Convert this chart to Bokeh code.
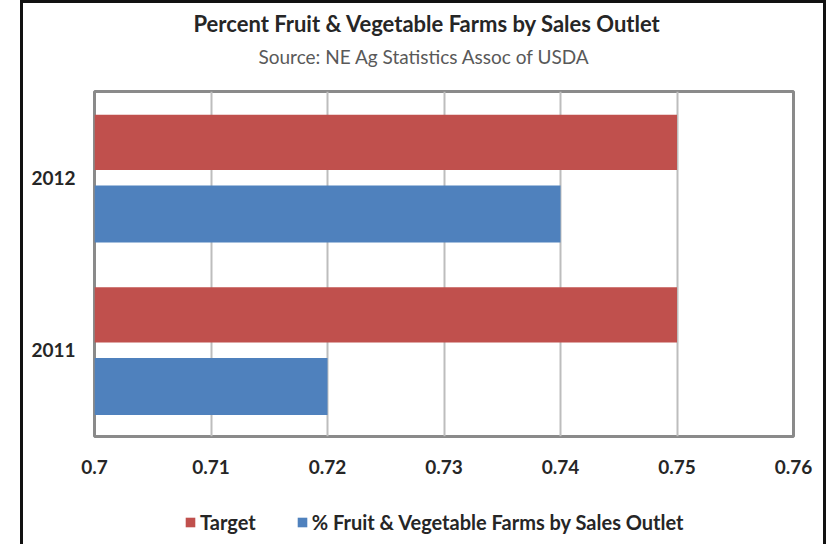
from bokeh.plotting import figure
from bokeh.layouts import column
from bokeh.models import Legend, LegendItem, Title, FixedTicker, ColumnDataSource
from bokeh.transform import dodge
from bokeh.embed import file_html
from bokeh.resources import INLINE

years = ["2011", "2012"]
target = [0.75, 0.75]
pct_farms = [0.72, 0.74]
x_ticks = [0.70, 0.71, 0.72, 0.73, 0.74, 0.75, 0.76]
series_names = ["Target", "% Fruit & Vegetable Farms by Sales Outlet"]

RED = "#C0504D"
BLUE = "#4F81BD"
FONT = "Lato"
TXT = "#262626"

src = ColumnDataSource(dict(year=years, target=target, pct=pct_farms, base=[0, 0]))

p = figure(width=806, height=490, y_range=years, x_range=(0.70, 0.76),
           output_backend="svg", toolbar_location=None,
           min_border_left=71, min_border_right=36, min_border_top=86, min_border_bottom=57)
p.margin = (0, 0, 0, 20)
p.styles = {"border-left": "3px solid #111", "border-top": "3px solid #111",
            "border-right": "3px solid #111", "box-sizing": "border-box"}

r1 = p.hbar(y=dodge("year", 0.205, range=p.y_range), left="base", right="target", height=0.32,
            source=src, fill_color=RED, line_color=None)
r2 = p.hbar(y=dodge("year", -0.21, range=p.y_range), left="base", right="pct", height=0.33,
            source=src, fill_color=BLUE, line_color=None)

# spacer between subtitle and plot frame, then subtitle, then main title (outermost)
p.add_layout(Title(text=" ", text_font_size="2px", standoff=18), "above")
p.add_layout(Title(text="Source: NE Ag Statistics Assoc of USDA", align="left", offset=164,
                   text_font=FONT, text_font_size="19px", text_font_style="normal",
                   text_color="#595959", standoff=4), "above")
p.title.text = "Percent Fruit & Vegetable Farms by  Sales Outlet"
p.title.align = "left"
p.title.offset = 99
p.title.text_font = FONT
p.title.text_font_size = "22px"
p.title.text_font_style = "bold"
p.title.text_color = TXT
p.title.standoff = 8

p.xaxis.ticker = FixedTicker(ticks=x_ticks)
p.xaxis.major_label_overrides = {t: ("%g" % t) for t in x_ticks}
p.xaxis.axis_line_color = None
p.xaxis.major_tick_line_color = None
p.xaxis.major_tick_out = 0
p.xaxis.minor_tick_line_color = None
p.xaxis.major_label_standoff = 23
p.xaxis.major_label_text_font = FONT
p.xaxis.major_label_text_font_size = "19px"
p.xaxis.major_label_text_font_style = "bold"
p.xaxis.major_label_text_color = TXT

p.yaxis.axis_line_color = None
p.yaxis.major_tick_line_color = None
p.yaxis.major_tick_out = 0
p.yaxis.major_label_standoff = 19
p.yaxis.major_label_text_font = FONT
p.yaxis.major_label_text_font_size = "19px"
p.yaxis.major_label_text_font_style = "bold"
p.yaxis.major_label_text_color = TXT

p.ygrid.grid_line_color = None
p.xgrid.grid_line_color = "#bdbdbd"
p.xgrid.grid_line_width = 2
p.outline_line_color = "#8a8a8a"
p.outline_line_width = 3

# legend strip below the chart (its frame aligns with the chart frame)
leg = figure(width=806, height=54, output_backend="svg", toolbar_location=None,
             min_border=0, x_range=(0.70, 0.76), y_range=years)
leg.margin = (0, 0, 0, 20)
leg.styles = {"border-left": "3px solid #111", "border-right": "3px solid #111",
              "box-sizing": "border-box"}
leg.axis.visible = False
leg.grid.visible = False
leg.outline_line_color = None
lr1 = leg.hbar(y="year", left="base", right="target", height=0.3, source=src,
               fill_color=RED, line_color=None, visible=False)
lr2 = leg.hbar(y="year", left="base", right="pct", height=0.3, source=src,
               fill_color=BLUE, line_color=None, visible=False)
legend = Legend(items=[LegendItem(label=series_names[0], renderers=[lr1]),
                       LegendItem(label=series_names[1], renderers=[lr2])],
                orientation="horizontal", location=(90, 10),
                label_text_font=FONT, label_text_font_size="20px", label_text_font_style="bold",
                label_text_color=TXT, glyph_width=12, glyph_height=12,
                label_standoff=4, spacing=40, border_line_color=None,
                padding=0, margin=0, background_fill_alpha=0)
leg.add_layout(legend, "center")

layout = column(p, leg, spacing=0)
open("out.html", "w").write(file_html(layout, INLINE))
